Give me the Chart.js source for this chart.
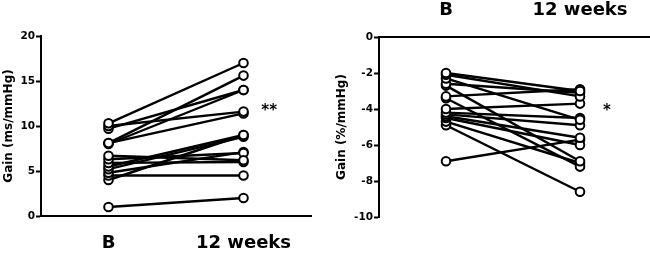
<!DOCTYPE html>
<html>
<head>
<meta charset="utf-8">
<script src="https://cdn.jsdelivr.net/npm/chart.js@4.4.1/dist/chart.umd.min.js"></script>
<style>
  html, body { margin: 0; padding: 0; background: #fff; overflow: hidden; }
  .panel { position: absolute; top: 0; width: 325px; height: 255px; }
  #left { left: 0; }
  #right { left: 325px; width: 335px; }
</style>
</head>
<body>
<div class="panel" id="left"><canvas id="gainMs"></canvas></div>
<div class="panel" id="right"><canvas id="gainPct"></canvas></div>
<script>
// timepoints
const timeLabels = ['B', '12 weeks'];

// Gain (ms/mmHg), one entry per subject
const msBaseline = [10.3, 10.0, 9.7, 8.1, 8.0, 8.1, 6.7, 6.3, 5.9, 5.5, 5.2, 4.8, 4.5, 4.0, 1.0];
const ms12Weeks  = [17.0, 11.6, 14.0, 15.6, 14.0, 11.4, 6.2, 7.0, 6.0, 9.0, 8.8, 7.1, 4.5, 9.0, 2.0];

// Gain (%/mmHg), one entry per subject
const pctBaseline = [-2.0, -2.1, -2.3, -2.6, -2.7, -3.3, -3.4, -4.0, -4.2, -4.3, -4.4, -4.5, -4.7, -4.9, -6.9];
const pct12Weeks  = [-3.0, -3.3, -4.6, -3.1, -6.9, -2.9, -7.2, -3.7, -4.5, -4.9, -5.6, -6.0, -7.0, -8.6, -5.7];

const msTicks = [0, 5, 10, 15, 20];
const pctTicks = [0, -2, -4, -6, -8, -10];

Chart.defaults.font.family = "'DejaVu Sans', sans-serif";
Chart.defaults.font.weight = 'bold';
Chart.defaults.color = '#000';

// one line per subject: B -> 12 weeks
function subjectLines(before, after) {
  return before.map((b, i) => ({
    data: [{ x: 0, y: b }, { x: 1, y: after[i] }],
    borderColor: '#000',
    borderWidth: 2.4,
    pointRadius: 4.3,
    pointBorderWidth: 2,
    pointBorderColor: '#000',
    pointBackgroundColor: '#fff',
    tension: 0
  }));
}

// significance marks placed via the chart scales
function starPlugin(text, xVal, yVal) {
  return {
    id: 'stars',
    afterDatasetsDraw(chart) {
      const ctx = chart.ctx;
      ctx.save();
      ctx.font = "bold 15px 'DejaVu Sans'";
      ctx.fillStyle = '#000';
      ctx.textAlign = 'center';
      ctx.textBaseline = 'middle';
      ctx.fillText(text, chart.scales.x.getPixelForValue(xVal), chart.scales.y.getPixelForValue(yVal));
      ctx.restore();
    }
  };
}

function makeChart(id, before, after, opts) {
  return new Chart(document.getElementById(id), {
    type: 'line',
    data: { datasets: subjectLines(before, after) },
    plugins: [starPlugin(opts.star, opts.starX, opts.starY)],
    options: {
      responsive: true,
      maintainAspectRatio: false,
      animation: false,
      layout: { padding: opts.padding },
      plugins: { legend: { display: false }, tooltip: { enabled: false } },
      scales: {
        x: {
          type: 'linear',
          position: opts.xPos,
          min: -0.5,
          max: opts.xMax,
          afterBuildTicks: (scale) => { scale.ticks = [{ value: 0 }, { value: 1 }]; },
          afterFit: (scale) => { scale.height = opts.xHeight; },
          ticks: {
            callback: (v) => timeLabels[v],
            font: { size: 18, weight: 'bold' },
            padding: opts.xPad,
            maxRotation: 0,
            autoSkip: false
          },
          grid: { drawOnChartArea: false, drawTicks: false },
          border: { color: '#000', width: 2 }
        },
        y: {
          min: opts.yMin,
          max: opts.yMax,
          afterBuildTicks: (scale) => { scale.ticks = opts.yTicks.map(v => ({ value: v })); },
          afterFit: (scale) => { scale.width = opts.yWidth; },
          ticks: { font: { size: 10.5, weight: 'bold' }, padding: 1 },
          grid: { drawOnChartArea: false, drawTicks: true, tickLength: 5, tickColor: '#000', tickWidth: 2 },
          border: { color: '#000', width: 2 },
          title: {
            display: true,
            text: opts.yTitle,
            font: { size: 12, weight: 'bold' },
            padding: { top: opts.titlePad, bottom: 0 }
          }
        }
      }
    }
  });
}

makeChart('gainMs', msBaseline, ms12Weeks, {
  padding: { top: 36, right: 14, bottom: 0, left: 0 },
  xPos: 'bottom', xHeight: 39, xPad: 17, xMax: 1.5,
  yMin: 0, yMax: 20, yTicks: msTicks, yWidth: 41,
  yTitle: 'Gain (ms/mmHg)', titlePad: 2,
  star: '**', starX: 1.19, starY: 11.6
});

makeChart('gainPct', pctBaseline, pct12Weeks, {
  padding: { top: 0, right: 4, bottom: 38, left: 0 },
  xPos: 'top', xHeight: 37, xPad: 16, xMax: 1.55,
  yMin: -10, yMax: 0, yTicks: pctTicks, yWidth: 54,
  yTitle: 'Gain (%/mmHg)', titlePad: 10,
  star: '*', starX: 1.2, starY: -4.1
});
</script>
</body>
</html>
